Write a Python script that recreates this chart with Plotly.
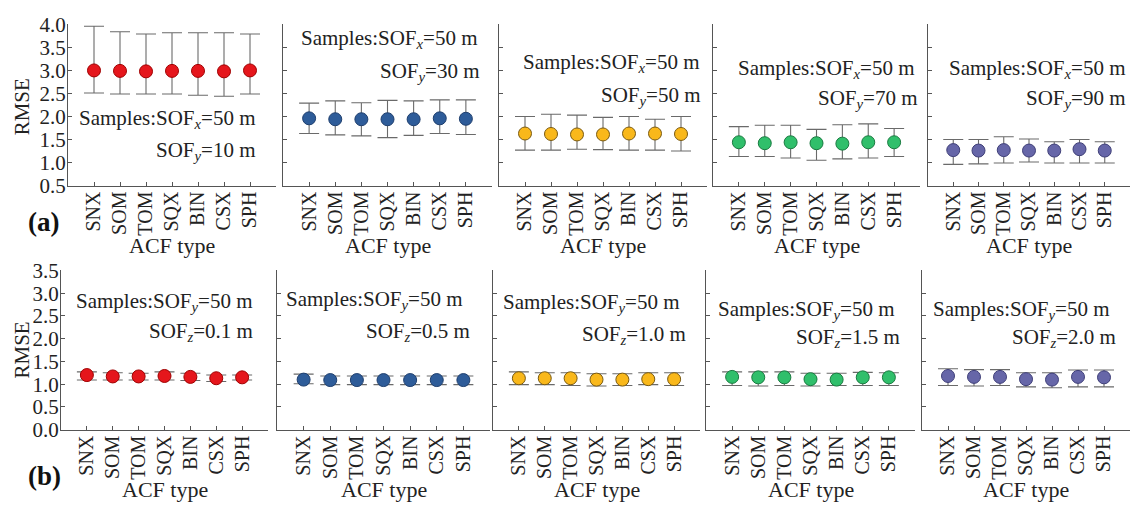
import plotly.graph_objects as go

acf_types = ["SNX", "SOM", "TOM", "SQX", "BIN", "CSX", "SPH"]

# Row (a): SOFx = 50 m, SOFy varies
a_sofy = ["10", "30", "50", "70", "90"]
a_mean = [
    [3.00, 2.99, 2.98, 2.99, 2.99, 2.98, 3.00],
    [1.96, 1.94, 1.94, 1.94, 1.94, 1.96, 1.95],
    [1.63, 1.62, 1.61, 1.61, 1.63, 1.63, 1.62],
    [1.44, 1.42, 1.44, 1.42, 1.41, 1.44, 1.44],
    [1.27, 1.26, 1.27, 1.26, 1.26, 1.29, 1.26],
]
a_upper = [
    [3.96, 3.84, 3.79, 3.82, 3.82, 3.82, 3.79],
    [2.29, 2.34, 2.30, 2.35, 2.34, 2.36, 2.36],
    [2.00, 2.05, 2.03, 1.98, 2.00, 1.94, 2.00],
    [1.78, 1.81, 1.81, 1.72, 1.82, 1.84, 1.74],
    [1.50, 1.50, 1.56, 1.51, 1.45, 1.50, 1.45],
]
a_lower = [
    [2.51, 2.49, 2.49, 2.49, 2.46, 2.44, 2.49],
    [1.63, 1.60, 1.58, 1.54, 1.59, 1.63, 1.61],
    [1.27, 1.27, 1.29, 1.28, 1.27, 1.27, 1.25],
    [1.13, 1.13, 1.10, 1.05, 1.08, 1.10, 1.13],
    [0.96, 0.97, 0.99, 1.01, 0.99, 0.99, 0.99],
]

# Row (b): SOFy = 50 m, SOFz varies
b_sofz = ["0.1", "0.5", "1.0", "1.5", "2.0"]
b_mean = [
    [1.20, 1.17, 1.17, 1.18, 1.16, 1.13, 1.15],
    [1.10, 1.09, 1.09, 1.09, 1.09, 1.09, 1.09],
    [1.13, 1.13, 1.13, 1.10, 1.10, 1.11, 1.11],
    [1.16, 1.15, 1.15, 1.11, 1.10, 1.15, 1.15],
    [1.18, 1.16, 1.16, 1.11, 1.10, 1.16, 1.15],
]
b_upper = [
    [1.27, 1.25, 1.24, 1.27, 1.24, 1.20, 1.20],
    [1.22, 1.18, 1.18, 1.18, 1.18, 1.18, 1.18],
    [1.27, 1.25, 1.25, 1.23, 1.23, 1.25, 1.25],
    [1.27, 1.27, 1.27, 1.24, 1.24, 1.26, 1.25],
    [1.34, 1.32, 1.32, 1.25, 1.25, 1.31, 1.31],
]
b_lower = [
    [1.09, 1.09, 1.09, 1.09, 1.08, 1.06, 1.09],
    [1.01, 0.99, 0.99, 0.99, 0.99, 0.99, 0.99],
    [0.99, 0.99, 0.97, 0.96, 0.97, 0.99, 0.97],
    [0.97, 0.96, 0.97, 0.96, 0.97, 0.97, 0.97],
    [0.97, 0.96, 0.97, 0.94, 0.92, 0.94, 0.94],
]

fill_colors = ["#e5161c", "#2e5c99", "#f9b81b", "#30bf6b", "#6666a8"]
edge_colors = ["#a00000", "#1f3f6e", "#7a5a10", "#1a7a40", "#3f3f78"]

W, H = 1132, 517
FONT = "Liberation Serif"
AX = "#555555"

# panel pixel boxes (left, right) and row (top, bottom)
row_x = [
    [(68, 276), (283, 492), (499, 707), (713, 920), (928, 1130)],
    [(61, 268), (277, 490), (493, 700), (706, 915), (922, 1130)],
]
row_y = [(13, 182), (271, 438)]
row_range = [[0.5, 4.0], [0.0, 3.5]]

fig = go.Figure()
layout = {}
annotations = []

rows = [(a_mean, a_upper, a_lower), (b_mean, b_upper, b_lower)]

for r in range(2):
    means, ups, lows = rows[r]
    for p in range(5):
        k = r * 5 + p + 1
        xs = "" if k == 1 else str(k)
        m = means[p]
        plus = [u - v for u, v in zip(ups[p], m)]
        minus = [v - l for v, l in zip(m, lows[p])]
        fig.add_trace(go.Scatter(
            x=acf_types, y=m, mode="markers",
            xaxis="x" + xs, yaxis="y" + xs, showlegend=False,
            marker=dict(size=13, color=fill_colors[p],
                        line=dict(color=edge_colors[p], width=1)),
            error_y=dict(type="data", symmetric=False, array=plus, arrayminus=minus,
                         color="#6a6a6a", thickness=1.1, width=10),
        ))
        x0, x1 = row_x[r][p]
        y0, y1 = row_y[r]
        layout["xaxis" + xs] = dict(
            domain=[x0 / W, x1 / W], anchor="y" + xs, type="category",
            range=[-1, 7], showline=True, linecolor=AX, linewidth=1,
            ticks="inside", ticklen=4, tickcolor=AX, tickangle=-90,
            ticklabelstandoff=-3,
            tickfont=dict(family=FONT, size=20, color="#222"),
            showgrid=False, zeroline=False, fixedrange=True,
        )
        layout["yaxis" + xs] = dict(
            domain=[1 - y1 / H, 1 - y0 / H], anchor="x" + xs,
            range=row_range[r], dtick=0.5, tick0=0, tickformat=".1f",
            showline=True, linecolor=AX, linewidth=1,
            ticks="inside", ticklen=4, tickcolor=AX,
            ticklabelstandoff=-3,
            showticklabels=(p == 0),
            tickfont=dict(family=FONT, size=21, color="#222"),
            showgrid=False, zeroline=False, fixedrange=True,
        )
        # ACF type label
        annotations.append(dict(
            text="ACF type", xref="paper", yref="paper",
            x=(x0 + x1) / 2 / W, y=1 - (y1 + 63) / H,
            xanchor="center", yanchor="middle", showarrow=False,
            font=dict(family=FONT, size=22, color="#222"),
        ))

# inside-panel text: (line1 right, line1 y, line2 right, line2 y)
a_text_pos = [(258, 112, 258, 146), (480, 28, 482, 63), (702, 54, 703, 88),
              (917, 60, 920, 91), (1128, 60, 1128, 91)]
b_text_pos = [(255, 304, 255, 336), (465, 302, 472, 336), (682, 305, 688, 339),
              (897, 312, 902, 342), (1112, 312, 1118, 342)]

TS = 21
for p in range(5):
    r1, ty1, r2, ty2 = a_text_pos[p]
    annotations.append(dict(
        text="Samples:SOF<sub><i>x</i></sub>=50 m", xref="paper", yref="paper",
        x=r1 / W, y=1 - ty1 / H, xanchor="right", yanchor="middle", showarrow=False,
        font=dict(family=FONT, size=TS, color="#222")))
    annotations.append(dict(
        text="SOF<sub><i>y</i></sub>=" + a_sofy[p] + " m", xref="paper", yref="paper",
        x=r2 / W, y=1 - ty2 / H, xanchor="right", yanchor="middle", showarrow=False,
        font=dict(family=FONT, size=TS, color="#222")))
    r1, ty1, r2, ty2 = b_text_pos[p]
    annotations.append(dict(
        text="Samples:SOF<sub><i>y</i></sub>=50 m", xref="paper", yref="paper",
        x=r1 / W, y=1 - ty1 / H, xanchor="right", yanchor="middle", showarrow=False,
        font=dict(family=FONT, size=TS, color="#222")))
    annotations.append(dict(
        text="SOF<sub><i>z</i></sub>=" + b_sofz[p] + " m", xref="paper", yref="paper",
        x=r2 / W, y=1 - ty2 / H, xanchor="right", yanchor="middle", showarrow=False,
        font=dict(family=FONT, size=TS, color="#222")))

# RMSE titles and panel tags
for (yc, tag, tx, ty) in [(100, "(a)", 43, 220), (355, "(b)", 44, 487)]:
    annotations.append(dict(
        text="RMSE", xref="paper", yref="paper", x=22 / W, y=1 - yc / H,
        xanchor="center", yanchor="middle", textangle=-90, showarrow=False,
        font=dict(family=FONT, size=21, color="#222")))
    annotations.append(dict(
        text="<b>" + tag + "</b>", xref="paper", yref="paper", x=tx / W, y=1 - ty / H,
        xanchor="center", yanchor="middle", showarrow=False,
        font=dict(family=FONT, size=27, color="#111")))

fig.update_layout(
    width=W, height=H, margin=dict(l=0, r=0, t=0, b=0),
    paper_bgcolor="white", plot_bgcolor="white",
    annotations=annotations, **layout,
)

fig.write_html("out.html")
